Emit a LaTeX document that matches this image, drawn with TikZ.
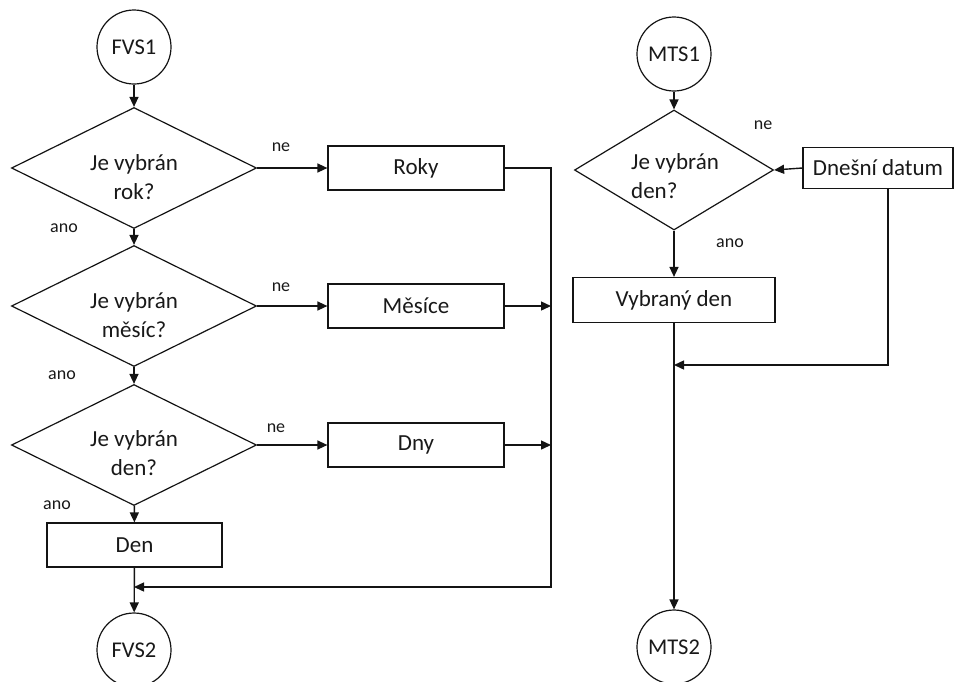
\documentclass[tikz,border=0pt]{standalone}
\usepackage{fontspec}
\setmainfont{Carlito}
\usetikzlibrary{shapes.geometric,arrows.meta}
\definecolor{txt}{RGB}{25,25,25}
\definecolor{lc}{RGB}{20,20,20}
\begin{document}
\begin{tikzpicture}[x=1pt,y=-1pt,
  every node/.style={text=txt},
  conn/.style={draw=lc, line width=1.4pt, -{Triangle[length=10pt,width=9pt]}},
  term/.style={circle, draw=lc, line width=1.2pt, minimum size=74pt, inner sep=0pt, font=\fontsize{22.5}{26}\selectfont},
  dia/.style={diamond, draw=lc, line width=1.2pt, minimum width=245pt, minimum height=121pt, inner sep=0pt},
  dtext/.style={align=center, font=\fontsize{23}{29}\selectfont, inner sep=0pt},
  proc/.style={rectangle, draw=lc, line width=1.2pt, minimum width=176pt, minimum height=44pt, inner sep=0pt, font=\fontsize{23}{26}\selectfont},
  lbl/.style={font=\fontsize{18}{20}\selectfont, inner sep=0pt}
]
\useasboundingbox[fill=white] (0,0) rectangle (958,681);

% left flow
\node[term] (fvs1) at (134,47) {FVS1};
\node[dia] (d1) at (134,168) {};
\node[dtext] (d1t) at (134,177) {Je vybrán\\rok?};
\node[proc] (roky) at (416,168) {Roky};

\node[dia] (d2) at (134,306) {};
\node[dtext] (d2t) at (134,315) {Je vybrán\\měsíc?};
\node[proc] (mes) at (416,306) {Měsíce};

\node[dia] (d3) at (134,445) {};
\node[dtext] (d3t) at (134,453) {Je vybrán\\den?};
\node[proc] (dny) at (416,445) {Dny};

\node[proc, minimum width=175pt] (den) at (134.5,545) {Den};
\node[term] (fvs2) at (134,650) {FVS2};

\node[lbl] (ne1) at (281,147) {ne};
\node[lbl] (ne2) at (281,287) {ne};
\node[lbl] (ne3) at (276,428) {ne};
\node[lbl] (ano1) at (64,228) {ano};
\node[lbl] (ano2) at (62,375) {ano};
\node[lbl] (ano3) at (57,505) {ano};

\coordinate (jc) at (551,587);
\coordinate (jt) at (134,587);

\draw[conn] (fvs1) -- (d1);
\draw[conn] (d1.east) -- (roky.west);
\draw[conn] (d1) -- (d2);
\draw[conn] (d2.east) -- (mes.west);
\draw[conn] (d2) -- (d3);
\draw[conn] (d3.east) -- (dny.west);
\draw[conn] (d3) -- (den);
\draw[conn] (den) -- (fvs2);
\draw[conn] (roky.east) -| (jc) -- (jt);
\draw[conn] (mes.east) -- (mes.east -| jc);
\draw[conn] (dny.east) -- (dny.east -| jc);

% right flow
\node[term] (mts1) at (674,54) {MTS1};
\node[dia, minimum width=199pt, minimum height=120pt] (d4) at (674,170) {};
\node[dtext, align=left, anchor=west] (d4t) at (631,176) {Je vybrán\\den?};
\node[proc, minimum width=150pt, minimum height=41pt] (dnes) at (878,168) {Dnešní datum};
\node[proc, minimum width=202pt, minimum height=45pt] (vyb) at (674,300) {Vybraný den};
\node[term] (mts2) at (674,647) {MTS2};

\node[lbl] (ne4) at (763,125) {ne};
\node[lbl] (ano4) at (730,243) {ano};

\coordinate (rc) at (888,365);
\coordinate (rt) at (674,365);

\draw[conn] (mts1) -- (d4);
\draw[conn] (dnes.west) -- (d4.east);
\draw[conn] (d4) -- (vyb);
\draw[conn] (vyb) -- (mts2);
\draw[conn] (dnes.south -| rc) -- (rc) -- (rt);
\end{tikzpicture}
\end{document}
